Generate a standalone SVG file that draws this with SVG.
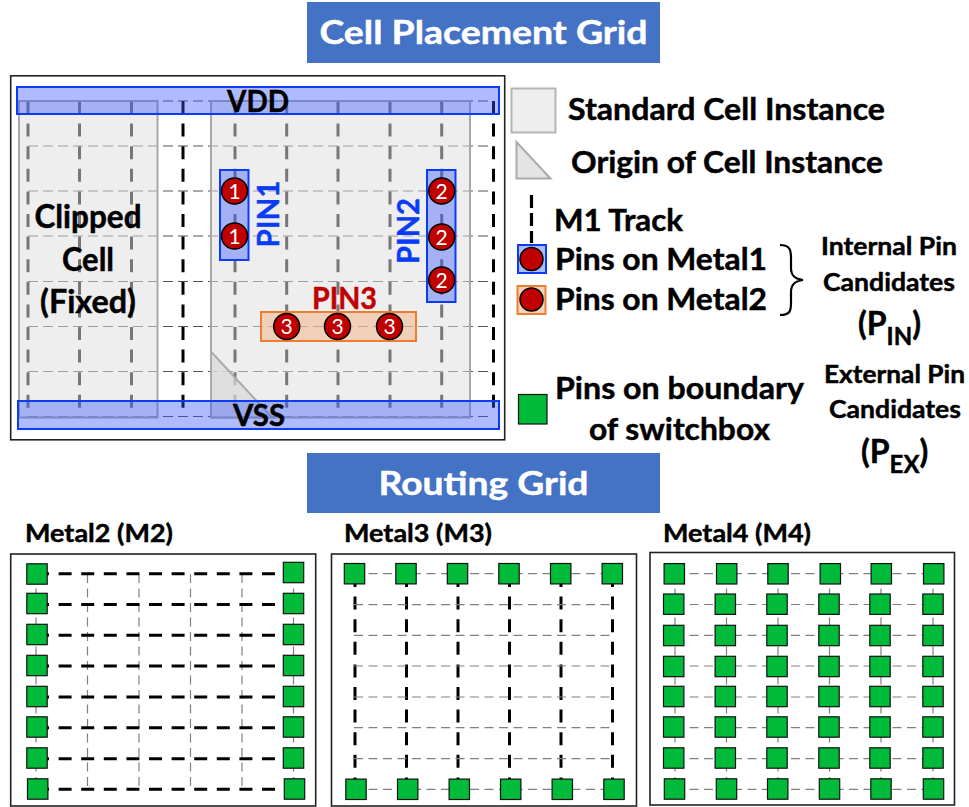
<svg xmlns="http://www.w3.org/2000/svg" width="969" height="807" viewBox="0 0 969 807">
<style>
text{font-family:"Lato","Carlito","Liberation Sans",sans-serif;font-weight:700;fill:#000;stroke:#000;stroke-width:.45}
.title{fill:#fff;stroke:#fff;font-size:33px;text-anchor:middle}
.lg{font-size:30px}
.sm{font-size:24px}
.hd{font-size:25px}
.lbl{font-size:30px;text-anchor:middle}
.big{font-size:32px;text-anchor:middle}
.n{fill:#fff;stroke:none;font-size:21px;font-weight:400;text-anchor:middle}
.blue{fill:#0a3cf5;stroke:#0a3cf5}
.red{fill:#c00000;stroke:#c00000}
.banner{fill:#4472c4}
.box{fill:#fff;stroke:#222;stroke-width:1.6}
.trk{stroke:#000;stroke-width:3;stroke-dasharray:13 9.6;fill:none}
.thin{stroke:#555;stroke-width:1;stroke-dasharray:10 5;fill:none}
.thin2{stroke:#808080;stroke-width:1.2;stroke-dasharray:9 5.5;fill:none}
.cell{fill:#dfdfdf;fill-opacity:.533;stroke:#a8a8a8;stroke-width:2}
.org{fill:#d9d9d9;fill-opacity:.7;stroke:#aaa;stroke-width:2}
.m1{fill:#3457ff;fill-opacity:.4;stroke:#0a3cf5;stroke-width:2}
.m2{fill:#f4b183;fill-opacity:.5;stroke:#ed7d31;stroke-width:2}
.pin{fill:#c00000;stroke:#000;stroke-width:1.5}
.sw{fill:#00bb3a;stroke:#111;stroke-width:1.2}
</style>
<defs><rect id="sq" class="sw" x="-10.2" y="-10.2" width="20.4" height="20.4"/></defs>

<g id="title-placement"><rect class="banner" x="307" y="2" width="353" height="61"/><text class="title" x="483.5" y="44" textLength="328" lengthAdjust="spacingAndGlyphs">Cell Placement Grid</text></g>
<rect id="frame" class="box" x="10.7" y="75.8" width="494" height="364"/>

<g id="connectors">
<g class="thin">
<path d="M28 101H493M28 146H493M28 191H493M28 236H493M28 281.5H493M28 326.5H493M28 371.5H493M28 416.5H493"/>
</g>
<g class="trk">
<path d="M28 101V410M79.5 101V410M131.5 101V410M183 101V410M235 101V410M286.7 101V410M338 101V410M390 101V410M441.7 101V410M493.5 101V410"/>
</g>
</g>

<g id="cell-fixed"><rect class="cell" x="19" y="101" width="138.5" height="316.5"/></g>
<g id="cell-instance"><rect class="cell" x="211" y="101" width="259" height="316.5"/><path class="org" d="M211 351.5V417.5H272Z"/></g>
<g id="rail-vdd"><rect class="m1" x="17" y="87" width="482" height="27"/><text class="lbl" x="258" y="112" textLength="62" lengthAdjust="spacingAndGlyphs">VDD</text></g>
<g id="rail-vss"><rect class="m1" x="18" y="401" width="481" height="28"/><text class="lbl" x="259" y="426" textLength="52" lengthAdjust="spacingAndGlyphs">VSS</text></g>
<g id="clipped-label">
<text class="big" x="88" y="228" textLength="107" lengthAdjust="spacingAndGlyphs">Clipped</text><text class="big" x="88" y="271" textLength="52" lengthAdjust="spacingAndGlyphs">Cell</text><text class="big" x="88" y="313" textLength="96" lengthAdjust="spacingAndGlyphs">(Fixed)</text>
</g>

<g id="pin1"><rect class="m1" x="220" y="170" width="28.5" height="90"/>
<circle class="pin" cx="234.5" cy="191" r="13"/><text class="n" x="234.5" y="198.5">1</text>
<circle class="pin" cx="234.5" cy="236" r="13"/><text class="n" x="234.5" y="243.5">1</text>
<text class="lbl blue" transform="translate(279,214) rotate(-90)" textLength="67" lengthAdjust="spacingAndGlyphs">PIN1</text></g>
<g id="pin2"><rect class="m1" x="427" y="170" width="28.5" height="132"/>
<circle class="pin" cx="441.7" cy="191" r="13"/><text class="n" x="441.7" y="198.5">2</text>
<circle class="pin" cx="441.7" cy="237" r="13"/><text class="n" x="441.7" y="244.5">2</text>
<circle class="pin" cx="441.7" cy="280" r="13"/><text class="n" x="441.7" y="287.5">2</text>
<text class="lbl blue" transform="translate(419,231) rotate(-90)" textLength="66" lengthAdjust="spacingAndGlyphs">PIN2</text></g>
<g id="pin3"><rect class="m2" x="261" y="312" width="155" height="29"/>
<circle class="pin" cx="286.7" cy="326.5" r="13"/><text class="n" x="286.7" y="334">3</text>
<circle class="pin" cx="337.5" cy="326.5" r="13"/><text class="n" x="337.5" y="334">3</text>
<circle class="pin" cx="389.5" cy="326.5" r="13"/><text class="n" x="389.5" y="334">3</text>
<text class="lbl red" x="344.5" y="309" textLength="65" lengthAdjust="spacingAndGlyphs">PIN3</text></g>

<g id="legend-cell"><rect x="511.5" y="88.5" width="44" height="44" fill="#eee" stroke="#b5b5b5" stroke-width="2"/><text class="lg" x="568" y="120" textLength="317" lengthAdjust="spacingAndGlyphs">Standard Cell Instance</text></g>
<g id="legend-origin"><path d="M516.5 142V178.5H550.5Z" fill="#e4e4e4" stroke="#aaa" stroke-width="2"/><text class="lg" x="571" y="173" textLength="312" lengthAdjust="spacingAndGlyphs">Origin of Cell Instance</text></g>
<g id="legend-track"><path d="M531.5 195V243" stroke="#000" stroke-width="3.2" stroke-dasharray="13 5" fill="none"/><text class="lg" x="554" y="231" textLength="129" lengthAdjust="spacingAndGlyphs">M1 Track</text></g>
<g id="legend-m1"><rect x="518" y="245" width="28" height="28" fill="#aebcff" stroke="#0a3cf5" stroke-width="2"/><circle class="pin" cx="531.5" cy="259" r="11.5"/><text class="lg" x="555" y="270" textLength="212" lengthAdjust="spacingAndGlyphs">Pins on Metal1</text></g>
<g id="legend-m2"><rect x="517.5" y="286" width="28" height="28" fill="#f9d3b8" stroke="#ed7d31" stroke-width="2"/><circle class="pin" cx="531.5" cy="299.5" r="11.5"/><text class="lg" x="555" y="310" textLength="212" lengthAdjust="spacingAndGlyphs">Pins on Metal2</text></g>
<path id="brace" d="M780 245C790 245 791 250 791 258V268C791 276 795 279 803 280C795 281 791 284 791 292V303C791 311 790 315 780 315" fill="none" stroke="#000" stroke-width="2.2"/>
<g id="legend-internal">
<text class="sm" x="821" y="255" textLength="136" lengthAdjust="spacingAndGlyphs">Internal Pin</text>
<text class="sm" x="823" y="291" textLength="132" lengthAdjust="spacingAndGlyphs">Candidates</text>
<text class="lg" x="858" y="335" style="font-size:32px">(P<tspan font-size="24" dy="10">IN</tspan><tspan dy="-10">)</tspan></text>
</g>
<g id="legend-boundary"><rect x="518.5" y="394.5" width="28.5" height="29.5" fill="#00bb3a" stroke="#111" stroke-width="1.2"/><text class="lg" x="555" y="399" textLength="249" lengthAdjust="spacingAndGlyphs">Pins on boundary</text><text class="lg" x="589" y="440" textLength="181" lengthAdjust="spacingAndGlyphs">of switchbox</text></g>
<g id="legend-external">
<text class="sm" x="824" y="383" textLength="141" lengthAdjust="spacingAndGlyphs">External Pin</text>
<text class="sm" x="829" y="418" textLength="132" lengthAdjust="spacingAndGlyphs">Candidates</text>
<text class="lg" x="861" y="463" style="font-size:32px">(P<tspan font-size="24" dy="9.5">EX</tspan><tspan dy="-9.5">)</tspan></text>
</g>

<g id="title-routing"><rect class="banner" x="307" y="453" width="353" height="60"/><text class="title" x="483.5" y="495" textLength="210" lengthAdjust="spacingAndGlyphs">Routing Grid</text></g>

<text class="hd" x="25" y="542" textLength="148" lengthAdjust="spacingAndGlyphs">Metal2 (M2)</text>
<text class="hd" x="344" y="542" textLength="148" lengthAdjust="spacingAndGlyphs">Metal3 (M3)</text>
<text class="hd" x="663" y="542" textLength="148" lengthAdjust="spacingAndGlyphs">Metal4 (M4)</text>

<g id="grid-m2">
<rect class="box" x="10.7" y="554" width="305" height="252"/>
<path class="thin2" d="M36 574V790M87.5 574V790M139 574V790M190.5 574V790M242 574V790M293.5 574V790"/>
<path class="trk" d="M36 573.7H296M36 604.5H296M36 635.3H296M36 666H296M36 697H296M36 727.7H296M36 758.7H296M36 789.3H296"/>
<g id="m2-pins">
<use href="#sq" x="37" y="574"/><use href="#sq" x="37" y="603.5"/><use href="#sq" x="37" y="634.5"/><use href="#sq" x="37" y="665.5"/><use href="#sq" x="37" y="696.5"/><use href="#sq" x="37" y="727"/><use href="#sq" x="37" y="758"/><use href="#sq" x="37.7" y="789"/>
<use href="#sq" x="293.5" y="572.5"/><use href="#sq" x="293.5" y="603.5"/><use href="#sq" x="293.5" y="634.5"/><use href="#sq" x="293.5" y="665.5"/><use href="#sq" x="293.5" y="696.5"/><use href="#sq" x="293.5" y="727"/><use href="#sq" x="293.5" y="758"/><use href="#sq" x="294.5" y="789"/>
</g>
</g>

<g id="grid-m3">
<rect class="box" x="331.5" y="554" width="305" height="252"/>
<path class="trk" d="M355 574V790M406.5 574V790M458 574V790M509.5 574V790M561 574V790M612.5 574V790"/>
<path class="thin2" d="M354 573.7H612M354 604.7H612M354 635.3H612M354 666H612M354 697H612M354 727.7H612M354 758.7H612M354 789.3H612"/>
<g id="m3-pins">
<use href="#sq" x="354.5" y="573.7"/><use href="#sq" x="406" y="573.7"/><use href="#sq" x="457.5" y="573.7"/><use href="#sq" x="509" y="573.7"/><use href="#sq" x="560.7" y="573.7"/><use href="#sq" x="612.3" y="573.7"/>
<use href="#sq" x="356" y="789.3"/><use href="#sq" x="407.7" y="789.3"/><use href="#sq" x="459.3" y="789.3"/><use href="#sq" x="510.7" y="789.3"/><use href="#sq" x="562.3" y="789.3"/><use href="#sq" x="614" y="789.3"/>
</g>
</g>

<g id="grid-m4">
<rect class="box" x="650" y="552.5" width="304.5" height="252.5"/>
<path class="thin2" d="M675 574V790M726.5 574V790M778 574V790M829.5 574V790M881 574V790M933 574V790"/>
<path class="thin2" d="M675 573.7H933M675 604.5H933M675 635.3H933M675 666H933M675 697H933M675 727.7H933M675 758.7H933M675 789.3H933"/>
<g id="m4-pins">
<use href="#sq" x="674.3" y="573.8"/><use href="#sq" x="726.7" y="573.8"/><use href="#sq" x="778" y="573.8"/><use href="#sq" x="830.3" y="573.8"/><use href="#sq" x="881.3" y="573.8"/><use href="#sq" x="933.7" y="573.8"/>
<use href="#sq" x="673.7" y="604.2"/><use href="#sq" x="725.3" y="604.2"/><use href="#sq" x="777" y="604.2"/><use href="#sq" x="829" y="604.2"/><use href="#sq" x="880" y="604.2"/><use href="#sq" x="933" y="604.2"/>
<use href="#sq" x="673.7" y="635.5"/><use href="#sq" x="725.3" y="635.5"/><use href="#sq" x="777" y="635.5"/><use href="#sq" x="829" y="635.5"/><use href="#sq" x="880" y="635.5"/><use href="#sq" x="933" y="635.5"/>
<use href="#sq" x="673.7" y="666.5"/><use href="#sq" x="725.3" y="666.5"/><use href="#sq" x="777" y="666.5"/><use href="#sq" x="829" y="666.5"/><use href="#sq" x="880" y="666.5"/><use href="#sq" x="933" y="666.5"/>
<use href="#sq" x="673.7" y="696.5"/><use href="#sq" x="725.3" y="696.5"/><use href="#sq" x="777" y="696.5"/><use href="#sq" x="829" y="696.5"/><use href="#sq" x="880" y="696.5"/><use href="#sq" x="933" y="696.5"/>
<use href="#sq" x="673.7" y="727"/><use href="#sq" x="725.3" y="727"/><use href="#sq" x="777" y="727"/><use href="#sq" x="829" y="727"/><use href="#sq" x="880" y="727"/><use href="#sq" x="933" y="727"/>
<use href="#sq" x="673.7" y="758"/><use href="#sq" x="725.3" y="758"/><use href="#sq" x="777" y="758"/><use href="#sq" x="829" y="758"/><use href="#sq" x="880" y="758"/><use href="#sq" x="933" y="758"/>
<use href="#sq" x="674.5" y="789"/><use href="#sq" x="726.5" y="789"/><use href="#sq" x="777.7" y="789"/><use href="#sq" x="829.5" y="789"/><use href="#sq" x="881" y="789"/><use href="#sq" x="933.5" y="789"/>
</g>
</g>
</svg>
